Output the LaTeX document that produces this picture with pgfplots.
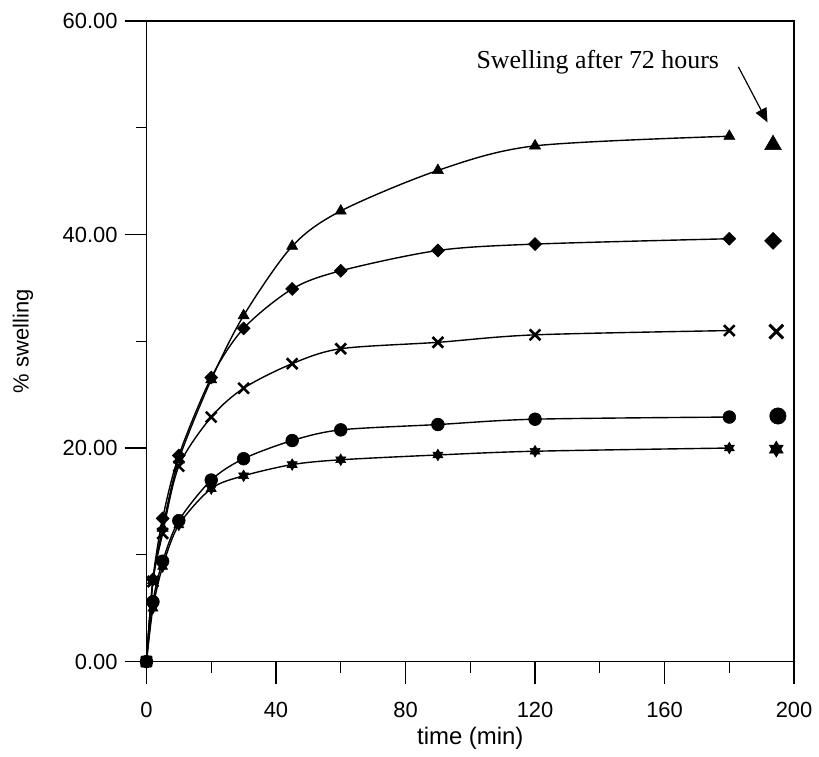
\documentclass[border=0pt]{standalone}
\usepackage{pgfplots}
\pgfplotsset{compat=1.18}
\usepackage{fontspec}
\setmainfont{Liberation Sans}
\newfontfamily\timesfont{Liberation Serif}
\usetikzlibrary{arrows.meta}
\pgfdeclareplotmark{hexstar}{%
  \pgfpathmoveto{\pgfpointpolar{90}{\pgfplotmarksize}}%
  \pgfpathlineto{\pgfpointpolar{210}{\pgfplotmarksize}}%
  \pgfpathlineto{\pgfpointpolar{330}{\pgfplotmarksize}}%
  \pgfpathclose
  \pgfpathmoveto{\pgfpointpolar{270}{\pgfplotmarksize}}%
  \pgfpathlineto{\pgfpointpolar{30}{\pgfplotmarksize}}%
  \pgfpathlineto{\pgfpointpolar{150}{\pgfplotmarksize}}%
  \pgfpathclose
  \pgfusepathqfillstroke}
\begin{document}
\begin{tikzpicture}
\begin{axis}[
  scale only axis, width=325bp, height=321.5bp,
  xmin=0, xmax=200, ymin=0, ymax=60,
  xtick={0,40,80,120,160,200}, ytick={0,20,40,60},
  minor xtick={20,60,100,140,180}, minor ytick={10,30,50},
  tick align=outside, xtick pos=left, ytick pos=left,
  major tick length=11bp, minor tick length=5.5bp,
  axis line style={line width=0.6bp},
  every tick/.style={black, line width=0.6bp},
  yticklabel style={/pgf/number format/.cd, fixed, fixed zerofill, precision=2},
  xticklabel style={yshift=-6bp},
  /pgf/number format/assume math mode=true,
  ticklabel style={font=\fontsize{11bp}{13bp}\selectfont},
  xlabel={time (min)}, ylabel={\% swelling},
  every axis x label/.style={at={(rel axis cs:0.5,0)}, yshift=-38.5bp, anchor=center, font=\fontsize{12bp}{14bp}\selectfont},
  every axis y label/.style={at={(rel axis cs:0,0.5)}, xshift=-62bp, rotate=90, anchor=center, font=\fontsize{11bp}{13bp}\selectfont},
  clip=false,
  every axis plot/.append style={black, line width=0.7bp},
]
% triangles
\addplot[smooth, mark=triangle*, mark size=3.2bp, mark options={solid, line width=0.3bp}] coordinates {
(0,0) (2,7.6) (5,12.5) (10,18.9) (20,26.4) (30,32.4) (45,38.9) (60,42.2) (90,46.0) (120,48.3) (180,49.2)};
\addplot[only marks, mark=triangle*, mark size=4.8bp, mark options={line width=0.3bp}] coordinates {(193.5,48.4)};
% diamonds
\addplot[smooth, mark=square*, mark size=2.3bp, mark options={solid, rotate=45, line width=0.3bp}] coordinates {
(0,0) (2,7.7) (5,13.4) (10,19.3) (20,26.6) (30,31.2) (45,34.9) (60,36.6) (90,38.5) (120,39.1) (180,39.6)};
\addplot[only marks, mark=square*, mark size=3.0bp, mark options={rotate=45, line width=0.3bp}] coordinates {(193.5,39.4)};
% crosses
\addplot[smooth, mark=x, mark size=3.8bp, mark options={solid, line width=1.3bp}] coordinates {
(0,0) (2,7.5) (5,12.0) (10,18.3) (20,22.9) (30,25.6) (45,27.9) (60,29.3) (90,29.9) (120,30.6) (180,31.0)};
\addplot[only marks, mark=x, mark size=4.9bp, mark options={line width=1.5bp}] coordinates {(194.5,30.9)};
% circles
\addplot[smooth, mark=*, mark size=3.2bp, mark options={solid, line width=0.3bp}] coordinates {
(0,0) (2,5.6) (5,9.4) (10,13.2) (20,17.0) (30,19.0) (45,20.7) (60,21.7) (90,22.2) (120,22.7) (180,22.9)};
\addplot[only marks, mark=*, mark size=4.1bp, mark options={line width=0.3bp}] coordinates {(195,23.0)};
% stars
\addplot[smooth, mark=hexstar, mark size=2.9bp, mark options={solid, line width=0.3bp}] coordinates {
(0,0) (2,5.0) (5,8.9) (10,12.8) (20,16.2) (30,17.4) (45,18.45) (60,18.9) (90,19.35) (120,19.7) (180,20.0)};
\addplot[only marks, mark=hexstar, mark size=4.0bp, mark options={line width=0.3bp}] coordinates {(194.5,19.9)};
% zero point square
\addplot[only marks, mark=square*, mark size=2.6bp] coordinates {(0,0)};
\node[anchor=base west, inner sep=0pt, font=\timesfont\fontsize{13bp}{15bp}\selectfont] at (axis cs:101.8,55.5) {Swelling after 72 hours};
\draw[line width=0.6bp, -{Triangle[length=7bp,width=6bp]}] (axis cs:182.8,55.7) -- (axis cs:191.8,50.5);
\end{axis}
\path ([xshift=-73.5bp,yshift=-41bp]current axis.south west) rectangle ([xshift=336bp,yshift=332bp]current axis.south west);
\end{tikzpicture}
\end{document}
